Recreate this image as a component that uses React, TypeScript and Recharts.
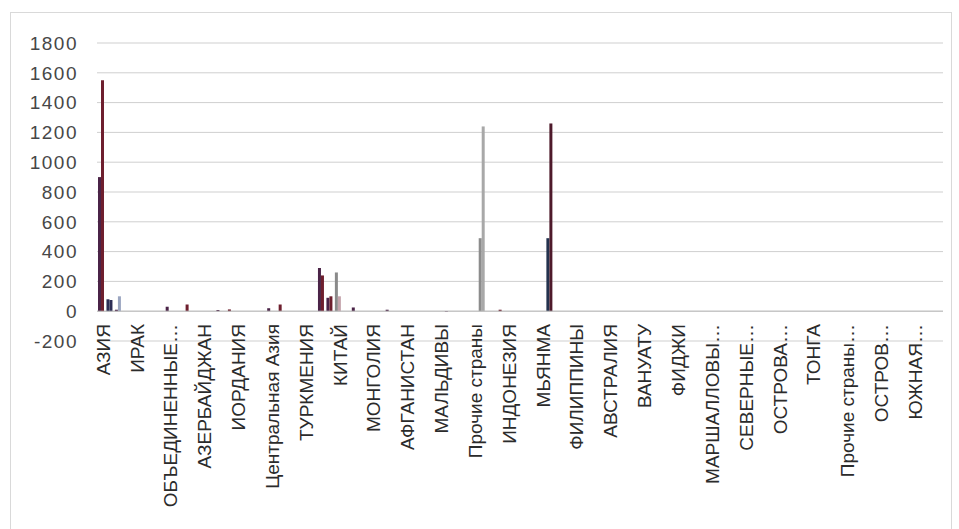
import React from "react";
import {
  BarChart,
  Bar,
  Cell,
  CartesianGrid,
  XAxis,
  YAxis,
  ReferenceLine,
} from "recharts";

// all categories of the sheet; only every 4th gets a label on the axis
const categories = [
  "АЗИЯ", "Западная Азия", "АРМЕНИЯ", "БАХРЕЙН",
  "ИРАК", "ГРУЗИЯ", "ИЗРАИЛЬ", "ЙЕМЕН",
  "ОБЪЕДИНЕННЫЕ АРАБСКИЕ ЭМИРАТЫ", "КАТАР", "КИПР", "КУВЕЙТ",
  "АЗЕРБАЙДЖАН", "ЛИВАН", "ОМАН", "САУДОВСКАЯ АРАВИЯ",
  "ИОРДАНИЯ", "СИРИЯ", "ТУРЦИЯ", "ИРАН",
  "Центральная Азия", "КАЗАХСТАН", "КИРГИЗИЯ", "ТАДЖИКИСТАН",
  "ТУРКМЕНИЯ", "УЗБЕКИСТАН", "Восточная Азия", "ГОНКОНГ",
  "КИТАЙ", "МАКАО", "ЯПОНИЯ", "КОРЕЯ, КНДР",
  "МОНГОЛИЯ", "КОРЕЯ, РЕСПУБЛИКА", "ТАЙВАНЬ", "Южная Азия",
  "АФГАНИСТАН", "БАНГЛАДЕШ", "БУТАН", "ИНДИЯ",
  "МАЛЬДИВЫ", "НЕПАЛ", "ПАКИСТАН", "ШРИ-ЛАНКА",
  "Прочие страны", "Юго-Восточная Азия", "БРУНЕЙ", "ВЬЕТНАМ",
  "ИНДОНЕЗИЯ", "КАМБОДЖА", "ЛАОС", "МАЛАЙЗИЯ",
  "МЬЯНМА", "СИНГАПУР", "ТАИЛАНД", "ТИМОР-ЛЕСТЕ",
  "ФИЛИППИНЫ", "Океания", "Австралия и Новая Зеландия", "НОВАЯ ЗЕЛАНДИЯ",
  "АВСТРАЛИЯ", "Меланезия", "ПАПУА - НОВАЯ ГВИНЕЯ", "СОЛОМОНОВЫ ОСТРОВА",
  "ВАНУАТУ", "НОВАЯ КАЛЕДОНИЯ", "Микронезия", "КИРИБАТИ",
  "ФИДЖИ", "НАУРУ", "ПАЛАУ", "ГУАМ",
  "МАРШАЛЛОВЫ ОСТРОВА", "МИКРОНЕЗИЯ", "Полинезия", "САМОА",
  "СЕВЕРНЫЕ МАРИАНСКИЕ ОСТРОВА", "ТУВАЛУ", "ФРАНЦУЗСКАЯ ПОЛИНЕЗИЯ", "АМЕРИКАНСКОЕ САМОА",
  "ОСТРОВА УОЛЛИС И ФУТУНА", "ОСТРОВА КУКА", "НИУЭ", "ТОКЕЛАУ",
  "ТОНГА", "ПИТКЭРН", "ОСТРОВ НОРФОЛК", "ОСТРОВ РОЖДЕСТВА",
  "Прочие страны Океании", "Антарктида", "БУВЕ", "ФРАНЦУЗСКИЕ ЮЖНЫЕ ТЕРРИТОРИИ",
  "ОСТРОВ ХЕРД И ОСТРОВА МАКДОНАЛЬД", "КОКОСОВЫЕ ОСТРОВА", "МАЛЫЕ ТИХООКЕАНСКИЕ ОСТРОВА США", "БРИТАНСКАЯ ТЕРРИТОРИЯ",
  "ЮЖНАЯ ГЕОРГИЯ И ЮЖНЫЕ САНДВИЧЕВЫ ОСТРОВА", "Не указано", "Прочие", "Итого",
];

const tickLabels = [
  "АЗИЯ", "ИРАК", "ОБЪЕДИНЕННЫЕ…", "АЗЕРБАЙДЖАН", "ИОРДАНИЯ",
  "Центральная Азия", "ТУРКМЕНИЯ", "КИТАЙ", "МОНГОЛИЯ", "АФГАНИСТАН",
  "МАЛЬДИВЫ", "Прочие страны", "ИНДОНЕЗИЯ", "МЬЯНМА", "ФИЛИППИНЫ",
  "АВСТРАЛИЯ", "ВАНУАТУ", "ФИДЖИ", "МАРШАЛЛОВЫ…", "СЕВЕРНЫЕ…",
  "ОСТРОВА…", "ТОНГА", "Прочие страны…", "ОСТРОВ…", "ЮЖНАЯ…",
];

// two series, non-zero points only (index -> value)
const seriesA: Record<number, number> = {
  0: 900, 1: 80, 2: 10, 8: 30, 14: 8, 20: 20, 26: 290, 27: 90,
  28: 260, 30: 25, 34: 10, 41: -5, 45: 490, 53: 490,
};
const seriesB: Record<number, number> = {
  0: 1550, 1: 75, 2: 100, 10: 45, 15: 12, 21: 45, 26: 240, 27: 100,
  28: 100, 47: 10, 45: 1240, 53: 1260,
};

const yTicks = [-200, 0, 200, 400, 600, 800, 1000, 1200, 1400, 1600, 1800];

const colorA: Record<number, string> = { 1: "#2c2d55", 28: "#8a8a8a", 45: "#8c8c8c", 53: "#24324e" };
const colorB: Record<number, string> = { 1: "#2c2d55", 2: "#9aa5c0", 28: "#c4a3ab", 45: "#a8a8a8", 53: "#4e1a2b" };

const data = categories.map((name, i) => ({
  name,
  a: seriesA[i] ?? 0,
  b: seriesB[i] ?? 0,
}));

const CategoryTick = (props: any) => {
  const { x, y, payload } = props;
  const i = payload.index;
  if (i % 4 !== 0) return <g />;
  const ty = y - 25;
  return (
    <text
      x={x + 2}
      y={ty}
      transform={`rotate(-90, ${x + 2}, ${ty})`}
      textAnchor="end"
      dominantBaseline="central"
      fill="#2b2b2b"
      fontSize={19}
      fontFamily="'Liberation Sans', Arial, sans-serif"
    >
      {tickLabels[i / 4]}
    </text>
  );
};

export default function App() {
  return (
    <div
      style={{
        position: "absolute",
        left: 10,
        top: 12,
        width: 940,
        height: 530,
        border: "1px solid #d9d9d9",
        background: "#fff",
      }}
    >
      <BarChart
        width={938}
        height={516}
        data={data}
        margin={{ top: 30, right: 6, left: 0, bottom: 0 }}
        barSize={3}
        barGap={0}
      >
        <CartesianGrid vertical={false} stroke="#cfcfcf" />
        <XAxis
          dataKey="name"
          interval={0}
          height={188}
          axisLine={false}
          tickLine={false}
          tick={<CategoryTick />}
        />
        <YAxis
          domain={[-200, 1800]}
          ticks={yTicks}
          width={86}
          axisLine={false}
          tickLine={false}
          tickSize={0}
          tickMargin={19}
          tick={{
            fill: "#474747",
            fontSize: 19,
            letterSpacing: 1.5,
            fontFamily: "'Liberation Sans', Arial, sans-serif",
          }}
        />
        <ReferenceLine y={0} stroke="#bdbdbd" />
        <Bar dataKey="a" isAnimationActive={false}>
          {data.map((d, i) => (
            <Cell key={`a-${i}`} fill={colorA[i] ?? "#4a2347"} />
          ))}
        </Bar>
        <Bar dataKey="b" isAnimationActive={false}>
          {data.map((d, i) => (
            <Cell key={`b-${i}`} fill={colorB[i] ?? "#6e1f2e"} />
          ))}
        </Bar>
      </BarChart>
    </div>
  );
}
